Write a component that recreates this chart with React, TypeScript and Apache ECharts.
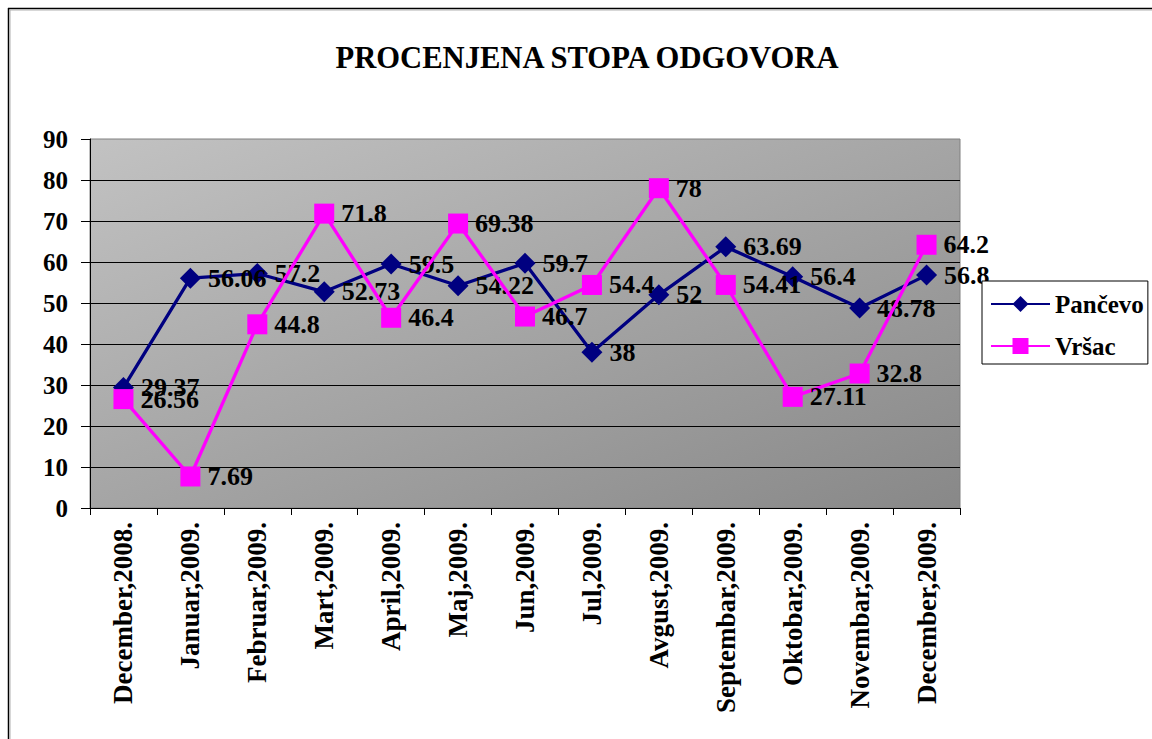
import React, { useEffect, useRef } from "react";
import * as echarts from "echarts";

const categories = [
  "December,2008.",
  "Januar,2009.",
  "Februar,2009.",
  "Mart,2009.",
  "April,2009.",
  "Maj,2009.",
  "Jun,2009.",
  "Jul,2009.",
  "Avgust,2009.",
  "Septembar,2009.",
  "Oktobar,2009.",
  "Novembar,2009.",
  "December,2009.",
];
const pancevo = [29.37, 56.06, 57.2, 52.73, 59.5, 54.22, 59.7, 38, 52, 63.69, 56.4, 48.78, 56.8];
const vrsac = [26.56, 7.69, 44.8, 71.8, 46.4, 69.38, 46.7, 54.4, 78, 54.41, 27.11, 32.8, 64.2];
const titleText = "PROCENJENA STOPA ODGOVORA";
const seriesNames = ["Pančevo", "Vršac"];

const FONT = "'Liberation Serif', 'Times New Roman', serif";

export default function App() {
  const ref = useRef<HTMLDivElement>(null);
  useEffect(() => {
    if (!ref.current) return;
    const chart = echarts.init(ref.current, null, { renderer: "svg" });
    const labelCfg = {
      show: true,
      position: "right" as const,
      distance: 7,
      fontSize: 26,
      fontWeight: "bold" as const,
      fontFamily: FONT,
      color: "#000",
    };
    chart.setOption({
      animation: false,
      backgroundColor: "#fff",
      title: {
        text: titleText,
        left: 582,
        top: 37,
        textAlign: "center",
        textStyle: { fontSize: 30.6, fontWeight: "bold", fontFamily: FONT, color: "#000" },
      },
      graphic: [
        { type: "line", shape: { x1: 8, y1: 8.5, x2: 1200, y2: 8.5 }, style: { stroke: "#000", lineWidth: 1.5 } },
        { type: "line", shape: { x1: 8.5, y1: 8, x2: 8.5, y2: 800 }, style: { stroke: "#000", lineWidth: 1.5 } },
        { type: "line", shape: { x1: 10, y1: 10, x2: 1200, y2: 10 }, style: { stroke: "#b0b0b0", lineWidth: 1 } },
        { type: "line", shape: { x1: 10, y1: 10, x2: 10, y2: 800 }, style: { stroke: "#b0b0b0", lineWidth: 1 } },
      ],
      legend: {
        orient: "vertical",
        left: 982,
        top: 281,
        backgroundColor: "#fff",
        borderColor: "#000",
        borderWidth: 1,
        padding: [8, 4, 3, 8],
        itemWidth: 59,
        itemHeight: 20,
        itemGap: 12,
        textStyle: { fontSize: 25, fontWeight: "bold", fontFamily: FONT, color: "#000", lineHeight: 30 },
        data: seriesNames,
      },
      grid: {
        left: 90,
        top: 139,
        width: 870,
        height: 369,
        show: true,
        borderColor: "#808080",
        borderWidth: 1,
        backgroundColor: new echarts.graphic.LinearGradient(0, 0, 1, 1, [
          { offset: 0, color: "#c2c2c2" },
          { offset: 1, color: "#888888" },
        ]),
      },
      xAxis: {
        type: "category",
        data: categories,
        boundaryGap: true,
        axisLine: { show: true, lineStyle: { color: "#000", width: 1 } },
        axisTick: { show: true, length: 7, lineStyle: { color: "#000" } },
        axisLabel: {
          interval: 0,
          rotate: 90,
          margin: 14,
          fontSize: 27,
          fontWeight: "bold",
          fontFamily: FONT,
          color: "#000",
        },
        splitLine: { show: false },
      },
      yAxis: {
        type: "value",
        min: 0,
        max: 90,
        interval: 10,
        axisLine: { show: true, lineStyle: { color: "#000", width: 1 } },
        axisTick: { show: true, length: 9, lineStyle: { color: "#000" } },
        axisLabel: {
          margin: 22,
          fontSize: 25,
          fontWeight: "bold",
          fontFamily: FONT,
          color: "#000",
        },
        splitLine: { show: true, showMaxLine: false, lineStyle: { color: "#000", width: 1 } },
      },
      series: [
        {
          name: seriesNames[0],
          type: "line",
          data: pancevo,
          symbol: "diamond",
          symbolSize: 21,
          lineStyle: { color: "#000080", width: 3.3 },
          itemStyle: { color: "#000080" },
          label: labelCfg,
          z: 2,
        },
        {
          name: seriesNames[1],
          type: "line",
          data: vrsac,
          symbol: "rect",
          symbolSize: 20,
          lineStyle: { color: "#ff00ff", width: 3.3 },
          itemStyle: { color: "#ff00ff" },
          label: labelCfg,
          z: 3,
        },
      ],
    });
    return () => chart.dispose();
  }, []);
  return (
    <div
      ref={ref}
      style={{ position: "absolute", left: 0, top: 0, width: 1152, height: 739, background: "#fff" }}
    />
  );
}
